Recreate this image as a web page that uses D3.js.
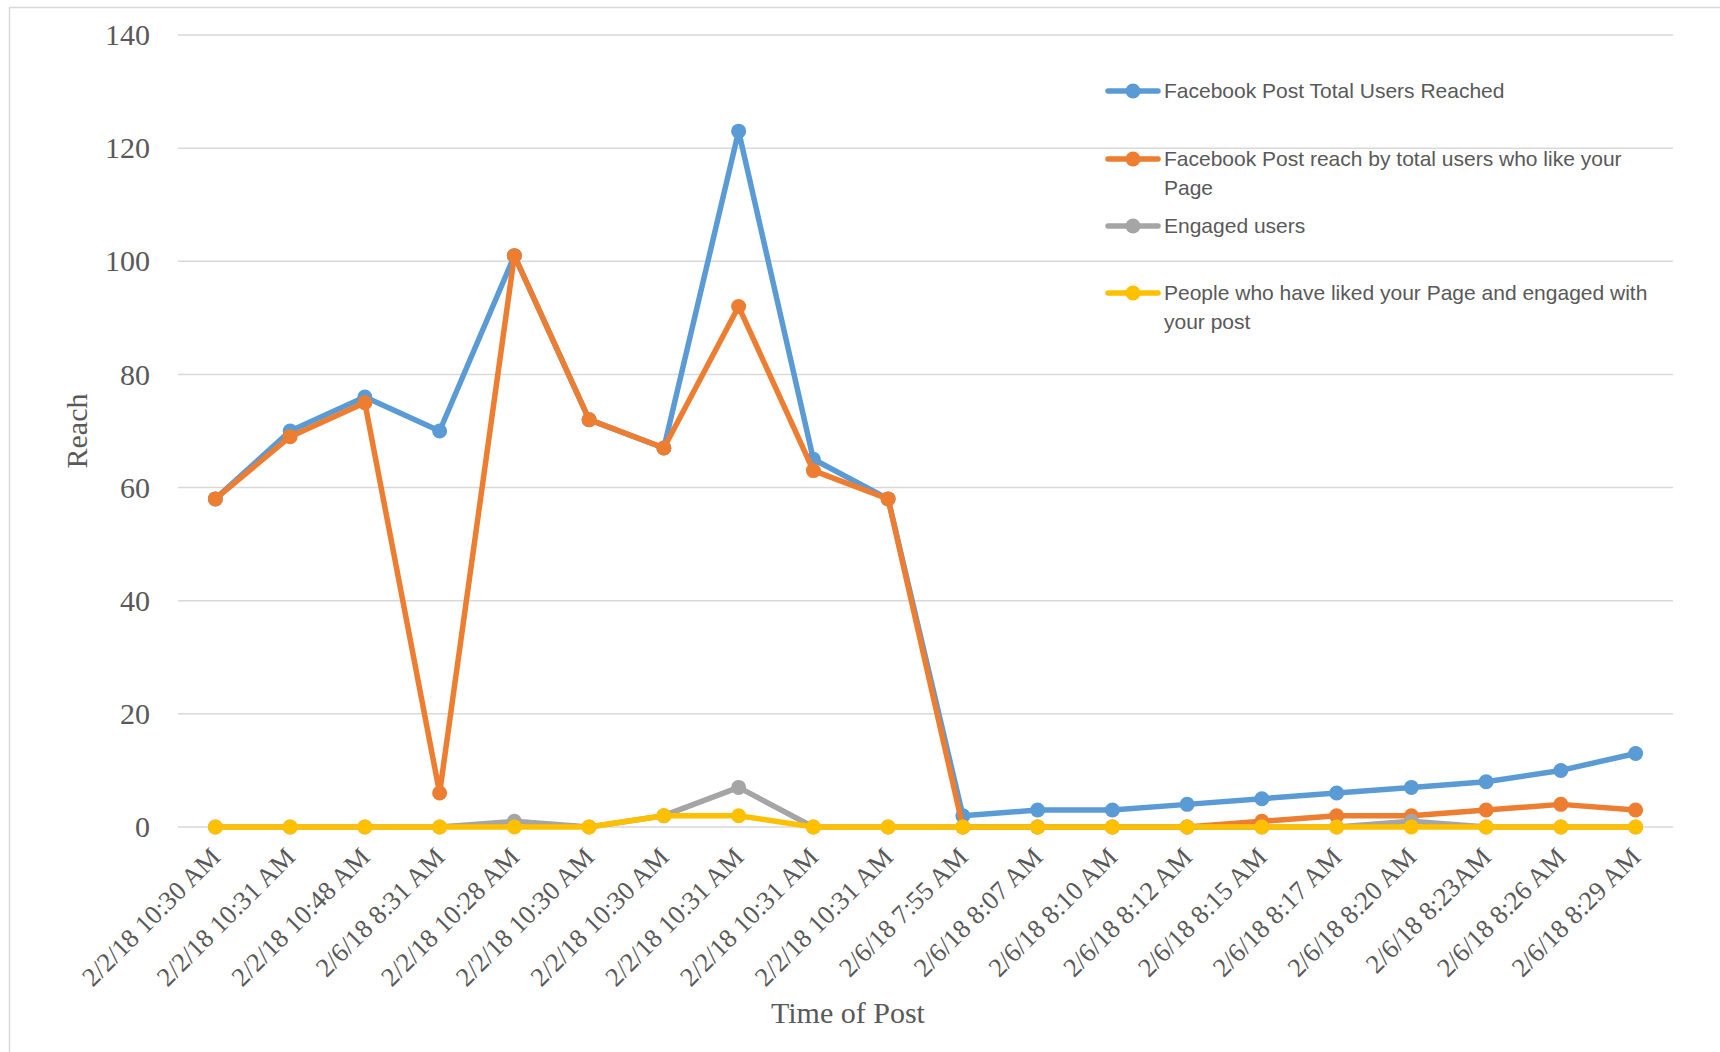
<!DOCTYPE html>
<html><head><meta charset="utf-8">
<script src="https://cdn.jsdelivr.net/npm/d3@7/dist/d3.min.js"></script>
<style>body{margin:0;background:#fff;}svg{display:block;}</style>
</head><body>
<svg id="chart" width="1720" height="1052"></svg>
<script>
const categories = ["2/2/18 10:30 AM","2/2/18 10:31 AM","2/2/18 10:48 AM","2/6/18 8:31 AM","2/2/18 10:28 AM","2/2/18 10:30 AM","2/2/18 10:30 AM","2/2/18 10:31 AM","2/2/18 10:31 AM","2/2/18 10:31 AM","2/6/18 7:55 AM","2/6/18 8:07 AM","2/6/18 8:10 AM","2/6/18 8:12 AM","2/6/18 8:15 AM","2/6/18 8:17 AM","2/6/18 8:20 AM","2/6/18 8:23AM","2/6/18 8:26 AM","2/6/18 8:29 AM"];
const totalReached = [58,70,76,70,101,72,67,123,65,58,2,3,3,4,5,6,7,8,10,13];
const reachByFans = [58,69,75,6,101,72,67,92,63,58,0,0,0,0,1,2,2,3,4,3];
const engagedUsers = [0,0,0,0,1,0,2,7,0,0,0,0,0,0,0,0,1,0,0,0];
const likedAndEngaged = [0,0,0,0,0,0,2,2,0,0,0,0,0,0,0,0,0,0,0,0];
const yTicks = [0,20,40,60,80,100,120,140];
const seriesNames = ["Facebook Post Total Users Reached","Facebook Post reach by total users who like your Page","Engaged users","People who have liked your Page and engaged with your post"];
const seriesColors = ["#5B9BD5","#ED7D31","#A5A5A5","#FFC000"];
const seriesValues = [totalReached, reachByFans, engagedUsers, likedAndEngaged];
const legendLines = [["Facebook Post Total Users Reached"],["Facebook Post reach by total users who like your","Page"],["Engaged users"],["People who have liked your Page and engaged with","your post"]];

const svg = d3.select("#chart");
svg.append("rect").attr("x",9.5).attr("y",7.5).attr("width",1740).attr("height",1080)
  .attr("fill","none").attr("stroke","#d9d9d9").attr("stroke-width",1.5);

const x = d3.scaleBand().domain(d3.range(categories.length)).range([178,1673]);
const y = d3.scaleLinear().domain([0,140]).range([827,35]);
const cx = i => x(i) + x.bandwidth()/2;

// gridlines
svg.append("g").selectAll("line").data(yTicks).join("line")
  .attr("x1",178).attr("x2",1673).attr("y1",d=>y(d)).attr("y2",d=>y(d))
  .attr("stroke","#d9d9d9").attr("stroke-width",1.5);

// y axis labels
const yAxis = d3.axisLeft(y).tickValues(yTicks).tickSize(0).tickPadding(0);
const yg = svg.append("g").attr("transform","translate(150,0)").call(yAxis);
yg.select(".domain").remove();
yg.selectAll("text").attr("font-family","'Liberation Serif', serif").attr("font-size",30).attr("fill","#595959").attr("dy","0.32em");

// x labels
const xAxis = d3.axisBottom(x).tickSize(0).tickFormat(i=>categories[i]);
const xg = svg.append("g").attr("transform","translate(0,827)").call(xAxis);
xg.select(".domain").remove();
xg.selectAll("text").attr("font-family","'Liberation Serif', serif").attr("font-size",26.5).attr("fill","#595959")
  .attr("text-anchor","end").attr("y",0).attr("dy","0.35em")
  .attr("transform","translate(0,25) rotate(-45)");

// titles
svg.append("text").attr("x",848).attr("y",1023).attr("text-anchor","middle")
  .attr("font-family","'Liberation Serif', serif").attr("font-size",30).attr("fill","#595959").text("Time of Post");
svg.append("text").attr("transform","translate(87,431) rotate(-90)").attr("text-anchor","middle")
  .attr("font-family","'Liberation Serif', serif").attr("font-size",30).attr("fill","#595959").text("Reach");

// series
const line = d3.line().x((d,i)=>cx(i)).y(d=>y(d));
seriesValues.forEach((vals,k)=>{
  const g = svg.append("g");
  g.append("path").datum(vals).attr("d",line).attr("fill","none")
    .attr("stroke",seriesColors[k]).attr("stroke-width",5.5).attr("stroke-linejoin","round").attr("stroke-linecap","round");
  g.selectAll("circle").data(vals).join("circle").attr("cx",(d,i)=>cx(i)).attr("cy",d=>y(d)).attr("r",7.5).attr("fill",seriesColors[k]);
});

// legend
const legY = [91,159,226,293];
const lg = svg.append("g");
legendLines.forEach((lines,k)=>{
  lg.append("line").attr("x1",1108).attr("x2",1158).attr("y1",legY[k]).attr("y2",legY[k])
    .attr("stroke",seriesColors[k]).attr("stroke-width",5.5).attr("stroke-linecap","round");
  lg.append("circle").attr("cx",1133).attr("cy",legY[k]).attr("r",7.5).attr("fill",seriesColors[k]);
  const t = lg.append("text").attr("font-family","'Liberation Sans', sans-serif").attr("font-size",21).attr("fill","#595959");
  lines.forEach((s,j)=>{
    t.append("tspan").attr("x",1164).attr("y",legY[k]+j*29).attr("dy","0.35em").text(s);
  });
});
</script>
</body></html>
